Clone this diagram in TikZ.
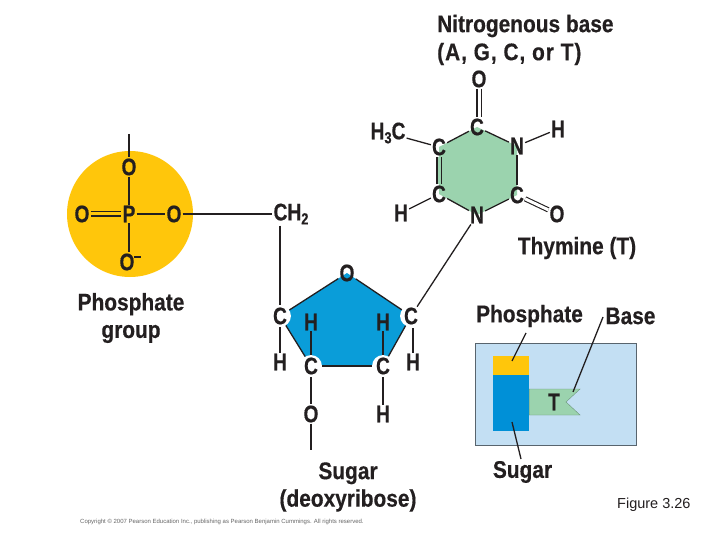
\documentclass[tikz,border=0pt]{standalone}
\usepackage{fontspec}
\setmainfont{Liberation Sans}
\newfontfamily\labfont[FakeStretch=0.87,FakeBold=0.4]{Liberation Sans Bold}
\newfontfamily\wideline[FakeStretch=0.87,FakeBold=0.4,LetterSpace=4]{Liberation Sans Bold}
\newfontfamily\atomfont[FakeStretch=0.8,FakeBold=0.4]{Liberation Sans Bold}
\definecolor{ink}{HTML}{231F20}
\definecolor{ringgreen}{HTML}{9BD3AE}
\definecolor{sugarblue}{HTML}{0A9DD9}
\definecolor{insetblue}{HTML}{0090D7}
\definecolor{phos}{HTML}{FFC60B}
\definecolor{panel}{HTML}{C3DFF3}
\tikzset{
  atom/.style={font=\atomfont\fontsize{24}{24}\selectfont, text=ink, inner sep=1pt},
  halo/.style={atom, circle, fill=white, minimum size=21pt, inner sep=0pt},
  caption/.style={font=\labfont\fontsize{24}{27.5}\selectfont, text=ink, inner sep=0pt, align=center},
  bond/.style={draw=ink, line width=1.3pt},
  dbl/.style={draw=ink, line width=1.1pt, double distance=3pt},
  leader/.style={draw=ink, line width=1.3pt},
  block/.style={inner sep=0pt, minimum width=36pt},
}
\begin{document}
\begin{tikzpicture}[x=1pt,y=-1pt]
\useasboundingbox (0,0) rectangle (720,540);
\fill[white] (0,0) rectangle (720,540);
% ring and disc fills
\coordinate (h1) at (477,127);\coordinate (h2) at (517,146);\coordinate (h3) at (517,195);
\coordinate (h4) at (477,215);\coordinate (h5) at (439,194);\coordinate (h6) at (439,147);
\fill[ringgreen] (h1)--(h2)--(h3)--(h4)--(h5)--(h6)--cycle;
\coordinate (p1) at (347,273);\coordinate (p2) at (411,316);\coordinate (p3) at (383,366);
\coordinate (p4) at (311,366);\coordinate (p5) at (280,316);
\fill[sugarblue] (p1)--(p2)--(p3)--(p4)--(p5)--cycle;
\node[circle, fill=phos, minimum size=126pt, inner sep=0pt] (disc) at (130,214) {};
% base
\node[atom] (bO)  at (479,79) {O};
\node[atom] (bC1) at (h1) {C};
\node[atom] (bN1) at (h2) {N};
\node[atom] (bC2) at (h3) {C};
\node[atom] (bN2) at (h4) {N};
\node[atom] (bC3) at (h5) {C};
\node[atom] (bC4) at (h6) {C};
\node[atom] (bMe) at (388,133) {H\raisebox{-4pt}{\fontsize{16}{16}\selectfont 3}C};
\node[atom] (bH1) at (558,129) {H};
\node[atom] (bH2) at (401,213) {H};
\node[atom] (bO2) at (557,214) {O};
\draw[dbl] (bO.south) -- (bO.south |- bC1.north);
\draw[bond] (bC1) -- (bN1);
\draw[bond] (bN1) -- (bC2);
\draw[bond] (bC2) -- (bN2);
\draw[bond] (bN2) -- (bC3);
\draw[dbl, double=ringgreen] (bC3) -- (bC4);
\draw[bond] (bC4) -- (bC1);
\draw[bond] (bMe) -- (bC4);
\draw[bond] (bN1) -- (bH1);
\draw[bond] (bH2) -- (bC3);
\draw[dbl] (bC2) -- (bO2);
% phosphate
\coordinate (tail) at (129,134);
\node[atom] (oT) at (129,167) {O};
\node[atom] (pP) at (129,214) {P};
\node[atom] (oL) at (82,214) {O};
\node[atom] (oR) at (174,214) {O};
\node[atom] (oB) at (127,262) {O\rlap{\raisebox{12pt}{\rule{7pt}{2pt}}}};
\draw[bond] (tail) -- (oT);
\draw[bond] (oT) -- (pP);
\draw[bond] (pP.south) -- (pP.south |- oB.north);
\draw[bond] (pP) -- (oR);
\draw[dbl, double=phos] (oL) -- (pP);
% sugar
\node[atom] (ch2) at (291,214) {CH\raisebox{-4pt}{\fontsize{16}{16}\selectfont 2}};
\node[atom] (sO) at (p1) {O};
\node[halo] (sC2) at (p2) {C};
\node[halo] (sC3) at (p3) {C};
\node[halo] (sC4) at (p4) {C};
\node[halo] (sC5) at (p5) {C};
\node[atom] (iH1) at (311,322) {H};
\node[atom] (iH2) at (383,322) {H};
\node[atom] (oH1) at (280,362) {H};
\node[atom] (oH2) at (413,362) {H};
\node[atom] (sO2) at (311,414) {O};
\node[atom] (sH3) at (383,414) {H};
\coordinate (tail2) at (311,450);
\coordinate (c2foot) at (413,328);
\draw[bond] (sO) -- (sC2);
\draw[bond] (sC2) -- (sC3);
\draw[bond] (sC3) -- (sC4);
\draw[bond] (sC4) -- (sC5);
\draw[bond] (sC5) -- (sO);
\draw[bond] (oR.east) -- (oR.east -| ch2.west);
\draw[bond] (sC5 |- ch2.south) -- (sC5);
\draw[bond] (sC5) -- (oH1);
\draw[bond] (iH1) -- (sC4);
\draw[bond] (iH2) -- (sC3);
\draw[bond] (c2foot) -- (oH2);
\draw[bond] (sC4) -- (sO2);
\draw[bond] (sC3) -- (sH3);
\draw[bond] (sO2) -- (tail2);
\draw[bond] (bN2) -- (sC2);
% captions
\node[caption, anchor=west] (capB1) at (437,26) {Nitrogenous base};
\node[caption, anchor=west, font=\wideline\fontsize{24}{27.5}\selectfont] (capB2) at (437,54) {(A, G, C, or T)};
\node[caption] (capT) at (577,248) {Thymine (T)};
\node[caption] (capP) at (131,318) {Phosphate\\group};
\node[caption] (capS) at (348,487) {Sugar\\(deoxyribose)};
% inset
\node[draw=black!55!panel, line width=1pt, fill=panel, minimum width=161pt, minimum height=102pt, inner sep=0pt] (panelbox) at (555.5,394) {};
\node[block, fill=phos, minimum height=19pt] (yel) at (511,365.5) {};
\node[block, fill=insetblue, minimum height=56pt] (blu) at (511,403) {};
\fill[ringgreen, draw=ringgreen!70!black, line width=.4pt] (blu.east |- 0,389) coordinate (g1) -- (580,389) -- (566,402) -- (580,415) -- (blu.east |- 0,415) -- cycle;
\node[atom] (tT) at (554,402) {T};
\node[caption] (capPh) at (529.5,316) {Phosphate};
\node[caption] (capBa) at (630.5,316) {Base};
\node[caption] (capSu) at (522.5,472) {Sugar};
\coordinate (l1a) at (526,333);\coordinate (l1b) at (512,361);
\coordinate (l2a) at (603,317);\coordinate (l2b) at (573,392);
\coordinate (l3a) at (512,422);\coordinate (l3b) at (521,459);
\draw[leader] (l1a) -- (l1b);
\draw[leader] (l2a) -- (l2b);
\draw[leader] (l3a) -- (l3b);
% footer
\node[anchor=west, inner sep=0pt, text=black!60, font=\fontsize{6}{6}\selectfont] (copy) at (80,522) {Copyright © 2007 Pearson Education Inc., publishing as Pearson Benjamin Cummings. All rights reserved.};
\node[anchor=west, inner sep=0pt, text=ink, font=\fontsize{14.5}{16}\selectfont] (fig) at (617,505) {Figure 3.26};
\end{tikzpicture}
\end{document}
